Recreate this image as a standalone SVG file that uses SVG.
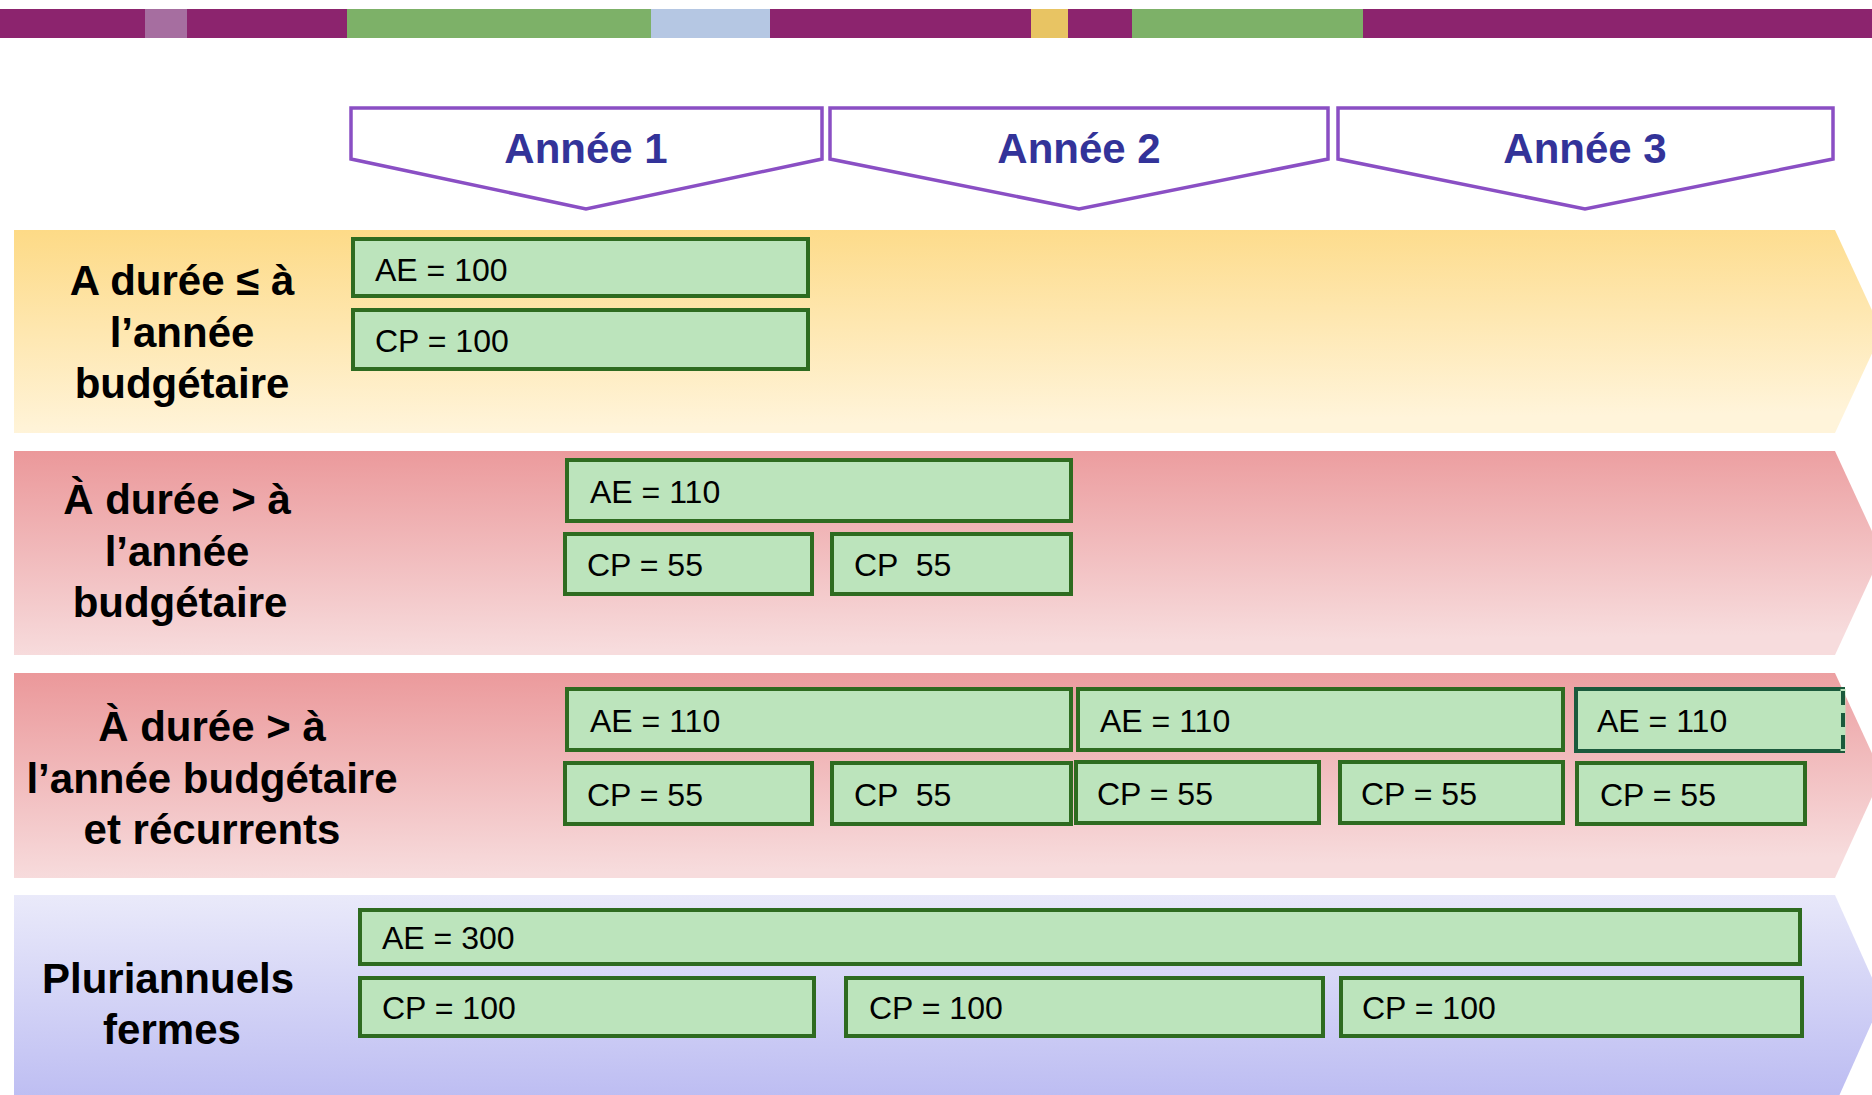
<svg xmlns="http://www.w3.org/2000/svg" width="1872" height="1095" viewBox="0 0 1872 1095">
<defs>
<linearGradient id="gY" x1="0" y1="0" x2="0.12" y2="1"><stop offset="0" stop-color="#fdda86"/><stop offset="1" stop-color="#fff4da"/></linearGradient>
<linearGradient id="gR" x1="0" y1="0" x2="0.12" y2="1"><stop offset="0" stop-color="#eb989a"/><stop offset="1" stop-color="#f7dcdd"/></linearGradient>
<linearGradient id="gB" x1="0" y1="0" x2="0.05" y2="1"><stop offset="0" stop-color="#eaeafa"/><stop offset="1" stop-color="#bcbcf2"/></linearGradient>
<style>
.hdr{fill:#fff;stroke:#8a4fc4;stroke-width:3.5;stroke-linejoin:miter}
.ht{font-family:"Liberation Sans",Arial,sans-serif;font-weight:bold;font-size:42px;fill:#333399;text-anchor:middle}
.lbl{font-family:"Liberation Sans",Arial,sans-serif;font-weight:bold;font-size:42px;fill:#000;text-anchor:middle}
.bx{fill:#bce4bc;stroke:#2e6b20;stroke-width:4}
.bt{font-family:"Liberation Sans",Arial,sans-serif;font-size:32px;fill:#000}
</style>
</defs>
<rect width="1872" height="1095" fill="#fff"/>
<g id="stripe">
<rect x="0" y="9" width="1872" height="29" fill="#8c246e"/>
<rect x="145" y="9" width="42" height="29" fill="#a66ea0"/>
<rect x="347" y="9" width="304" height="29" fill="#7db168"/>
<rect x="651" y="9" width="119" height="29" fill="#b5c7e3"/>
<rect x="1031" y="9" width="37" height="29" fill="#e8c463"/>
<rect x="1132" y="9" width="231" height="29" fill="#7db168"/>
</g>
<g id="bands">
<polygon id="band1" points="14,230 1835,230 1882,332 1835,433 14,433" fill="url(#gY)"/>
<polygon id="band2" points="14,451 1835,451 1882,553 1835,655 14,655" fill="url(#gR)"/>
<polygon id="band3" points="14,673 1835,673 1882,775 1835,878 14,878" fill="url(#gR)"/>
<polygon id="band4" points="14,895 1835,895 1882,1000 1835,1105 14,1105" fill="url(#gB)"/>
</g>
<g id="header1"><polygon class="hdr" points="351,108 822,108 822,159 586,209 351,159"/><text class="ht" x="586" y="163">Année 1</text></g>
<g id="header2"><polygon class="hdr" points="830,108 1328,108 1328,159 1079,209 830,159"/><text class="ht" x="1079" y="163">Année 2</text></g>
<g id="header3"><polygon class="hdr" points="1338,108 1833,108 1833,159 1585,209 1338,159"/><text class="ht" x="1585" y="163">Année 3</text></g>
<g id="label1"><text class="lbl" x="182" y="295">A durée ≤ à</text><text class="lbl" x="182" y="347">l’année</text><text class="lbl" x="182" y="398">budgétaire</text></g>
<g id="label2"><text class="lbl" x="177" y="514">À durée &gt; à</text><text class="lbl" x="177" y="566">l’année</text><text class="lbl" x="180" y="617">budgétaire</text></g>
<g id="label3"><text class="lbl" x="212" y="741">À durée &gt; à</text><text class="lbl" x="212" y="793">l’année budgétaire</text><text class="lbl" x="212" y="844">et récurrents</text></g>
<g id="label4"><text class="lbl" x="168" y="993">Pluriannuels</text><text class="lbl" x="172" y="1044">fermes</text></g>
<g id="r1-ae"><rect class="bx" x="353" y="239" width="455" height="57"/><text class="bt" x="375" y="281">AE = 100</text></g>
<g id="r1-cp"><rect class="bx" x="353" y="310" width="455" height="59"/><text class="bt" x="375" y="352">CP = 100</text></g>
<g id="r2-ae"><rect class="bx" x="567" y="460" width="504" height="61"/><text class="bt" x="590" y="503">AE = 110</text></g>
<g id="r2-cp1"><rect class="bx" x="565" y="534" width="247" height="60"/><text class="bt" x="587" y="576">CP = 55</text></g>
<g id="r2-cp2"><rect class="bx" x="832" y="534" width="239" height="60"/><text class="bt" x="854" y="576" xml:space="preserve">CP  55</text></g>
<g id="r3-ae1"><rect class="bx" x="567" y="689" width="504" height="61"/><text class="bt" x="590" y="732">AE = 110</text></g>
<g id="r3-ae2"><rect class="bx" x="1078" y="689" width="485" height="61"/><text class="bt" x="1100" y="732">AE = 110</text></g>
<g id="r3-ae3"><rect x="1576" y="689" width="267" height="62" fill="#bce4bc" stroke="#1b5a3c" stroke-width="4"/><line x1="1843" y1="689" x2="1843" y2="751" stroke="#bce4bc" stroke-width="5"/><line x1="1843" y1="691" x2="1843" y2="751" stroke="#1b5a3c" stroke-width="4" stroke-dasharray="14,8"/><text class="bt" x="1597" y="732">AE = 110</text></g>
<g id="r3-cp1"><rect class="bx" x="565" y="763" width="247" height="61"/><text class="bt" x="587" y="806">CP = 55</text></g>
<g id="r3-cp2"><rect class="bx" x="832" y="763" width="239" height="61"/><text class="bt" x="854" y="806" xml:space="preserve">CP  55</text></g>
<g id="r3-cp3"><rect class="bx" x="1076" y="762" width="243" height="61"/><text class="bt" x="1097" y="805">CP = 55</text></g>
<g id="r3-cp4"><rect class="bx" x="1340" y="762" width="223" height="61"/><text class="bt" x="1361" y="805">CP = 55</text></g>
<g id="r3-cp5"><rect class="bx" x="1577" y="763" width="228" height="61"/><text class="bt" x="1600" y="806">CP = 55</text></g>
<g id="r4-ae"><rect class="bx" x="360" y="910" width="1440" height="54"/><text class="bt" x="382" y="949">AE = 300</text></g>
<g id="r4-cp1"><rect class="bx" x="360" y="978" width="454" height="58"/><text class="bt" x="382" y="1019">CP = 100</text></g>
<g id="r4-cp2"><rect class="bx" x="846" y="978" width="477" height="58"/><text class="bt" x="869" y="1019">CP = 100</text></g>
<g id="r4-cp3"><rect class="bx" x="1341" y="978" width="461" height="58"/><text class="bt" x="1362" y="1019">CP = 100</text></g>
<g id="connectors"/>
</svg>
